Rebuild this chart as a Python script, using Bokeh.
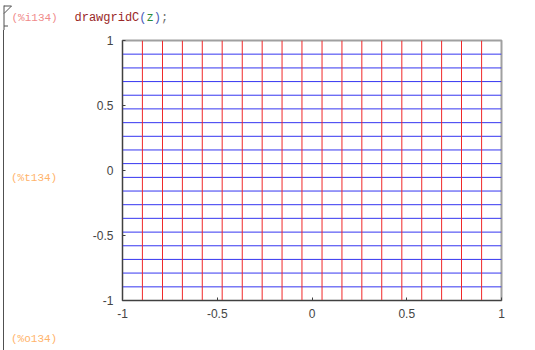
from bokeh.plotting import figure
from bokeh.models import Range1d, FixedTicker, Label, Div
from bokeh.layouts import column, row
from bokeh.embed import file_html
from bokeh.resources import INLINE

# ---- data ----
red_x = [-0.895, -0.789, -0.684, -0.579, -0.474, -0.368, -0.263, -0.158, -0.053,
         0.053, 0.158, 0.263, 0.368, 0.474, 0.579, 0.684, 0.789, 0.895]
blue_y = [-0.895, -0.789, -0.684, -0.579, -0.474, -0.368, -0.263, -0.158, -0.053,
          0.053, 0.158, 0.263, 0.368, 0.474, 0.579, 0.684, 0.789, 0.895]
x_ticks = [-1, -0.5, 0, 0.5, 1]
x_tick_labels = ["-1", "-0.5", "0", "0.5", "1"]
y_ticks = [-1, -0.5, 0, 0.5, 1]
y_tick_labels = ["-1", "-0.5", "0", "0.5", "1"]
x_lim = (-1, 1)
y_lim = (-1, 1)

# texts of the worksheet cell
input_tag = "(%i134)"
code_parts = ["drawgridC", "(", "z", ")", ";"]
code_colors = ["#9a2828", "#4a5ab8", "#2a8a3a", "#4a5ab8", "#707070"]
output_tags = ["(%t134)", "(%o134)"]

W, H = 535, 350
TOP_H = 30          # header strip
SIDE_W = 60         # left strip
L, R, T, B = 122, 501, 40, 300   # plot frame in page pixels
BR = "#505050"


def lab(f, text, px, py, color, size="11px"):
    f.add_layout(Label(x=px, y=py, text=text, text_color=color,
                       text_font="Liberation Mono", text_font_size=size,
                       text_baseline="middle", text_align="left"))


# ---- header strip (page pixels, y downward) ----
top = figure(width=W, height=TOP_H, output_backend="svg", toolbar_location=None,
             x_range=Range1d(0, W), y_range=Range1d(TOP_H, 0),
             x_axis_location=None, y_axis_location=None,
             min_border=0, min_border_left=0, min_border_right=0,
             min_border_top=0, min_border_bottom=0)
top.xgrid.visible = False
top.ygrid.visible = False
top.outline_line_color = None
top.background_fill_color = "white"
top.border_fill_color = "white"
lab(top, input_tag, 11, 17, "#f08a8a")
cw = 7.2
x0 = 74
pos = 0
for part, col in zip(code_parts, code_colors):
    lab(top, part, x0 + pos * cw, 17, col, "12px")
    pos += len(part)
top.line([3.5, 3.5], [5, TOP_H], line_color=BR, line_width=1)
top.line([3.5, 11, 3.5], [5.5, 5.5, 13], line_color=BR, line_width=1)
top.line([3.5, 7.5], [25.5, 25.5], line_color=BR, line_width=1)

# ---- left strip (HTML) ----
span_style = ("position:absolute;left:11px;font-family:'Liberation Mono',monospace;"
              "font-size:11px;line-height:13px;color:#ffb36a;white-space:nowrap;")
side_html = (
    f"<div style='position:relative;width:{SIDE_W}px;height:{H - TOP_H}px;'>"
    f"<div style='position:absolute;left:3px;top:0;width:1px;height:{H - TOP_H}px;background:{BR};'></div>"
    f"<span style=\"{span_style}top:{179 - TOP_H - 7}px;\">{output_tags[0]}</span>"
    f"<span style=\"{span_style}top:{340 - TOP_H - 7}px;\">{output_tags[1]}</span>"
    "</div>"
)
side = Div(text=side_html, width=SIDE_W, height=H - TOP_H,
           styles={"margin": "0", "padding": "0", "overflow": "hidden"})

# ---- main plot ----
p = figure(width=W - SIDE_W, height=H - TOP_H, output_backend="svg", toolbar_location=None,
           x_range=Range1d(*x_lim), y_range=Range1d(*y_lim),
           min_border_left=L - SIDE_W, min_border_right=W - R, min_border_top=T - TOP_H,
           min_border_bottom=H - B)
p.xgrid.visible = False
p.ygrid.visible = False
p.background_fill_color = "white"
p.border_fill_color = "white"
p.outline_line_color = "#a0a0a0"
p.outline_line_width = 2

p.segment(x0=[x_lim[0]] * len(blue_y), x1=[x_lim[1]] * len(blue_y), y0=blue_y, y1=blue_y,
          line_color="#3535f0", line_width=1)
p.segment(x0=red_x, x1=red_x, y0=[y_lim[0]] * len(red_x), y1=[y_lim[1]] * len(red_x),
          line_color="#f02828", line_width=1)

for ax, ticks, labels in ((p.xaxis[0], x_ticks, x_tick_labels), (p.yaxis[0], y_ticks, y_tick_labels)):
    ax.ticker = FixedTicker(ticks=ticks)
    ax.major_label_overrides = {t: l for t, l in zip(ticks, labels)}
    ax.minor_tick_line_color = None
    ax.major_tick_in = 3
    ax.major_tick_out = 0
    ax.major_tick_line_color = "#404040"
    ax.axis_line_color = "#404040"
    ax.axis_line_width = 1
    ax.major_label_text_font = "Liberation Sans"
    ax.major_label_text_font_size = "12px"
    ax.major_label_text_color = "#444444"
p.xaxis.major_label_standoff = 8
p.yaxis.major_label_standoff = 9

layout = column(top, row(side, p, spacing=0), spacing=0)
open("out.html", "w").write(file_html(layout, INLINE))
